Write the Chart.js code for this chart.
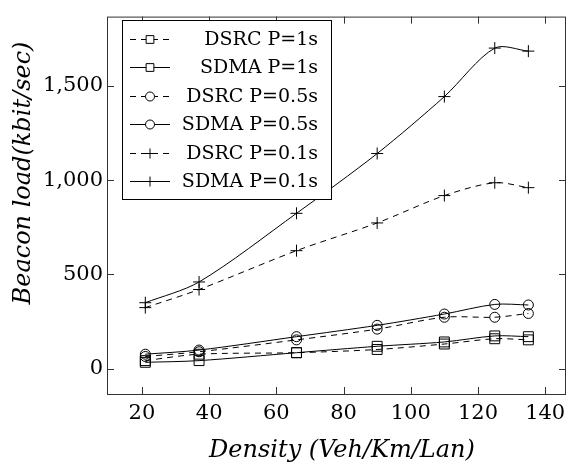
<!DOCTYPE html>
<html>
<head>
<meta charset="utf-8">
<script src="https://cdn.jsdelivr.net/npm/chart.js@4"></script>
<style>
  html, body { margin: 0; padding: 0; background: #fff; }
  #wrap { width: 574px; height: 470px; }
</style>
</head>
<body>
<div id="wrap"><canvas id="myChart" width="574" height="470"></canvas></div>
<script>
const density = [21, 37, 66, 90, 110, 125, 135];

const dsrc1 = [43, 77, 85, 102, 131, 159, 153];
const sdma1 = [34, 43, 85, 119, 142, 174, 170];
const dsrc05 = [65, 90, 153, 210, 273, 273, 293];
const sdma05 = [77, 99, 170, 230, 290, 341, 338];
const dsrc01 = [324, 420, 626, 773, 918, 986, 960];
const sdma01 = [350, 460, 824, 1141, 1443, 1700, 1684];

const seriesNames = ["DSRC P=1s", "SDMA P=1s", "DSRC P=0.5s", "SDMA P=0.5s", "DSRC P=0.1s", "SDMA P=0.1s"];
const xTicks = [20, 40, 60, 80, 100, 120, 140];
const yTicks = [0, 500, 1000, 1500];
const xTitle = "Density (Veh/Km/Lan)";
const yTitle = "Beacon load(kbit/sec)";

const FONT = "'DejaVu Serif', 'Liberation Serif', serif";

function makeSet(label, values, dashed, marker) {
  return {
    label: label,
    data: values.map((v, i) => ({ x: density[i], y: v })),
    borderColor: "#000",
    backgroundColor: "transparent",
    borderWidth: 1,
    borderDash: dashed ? [6, 5] : [],
    pointStyle: marker,
    pointRadius: marker == "rect" ? 7 : marker == "circle" ? 5 : 6,
    pointBorderColor: "#000",
    pointBackgroundColor: "transparent",
    pointBorderWidth: 1,
    tension: 0.3,
  };
}

// frame with inward ticks on all four sides, and the axis titles
const frame = {
  id: "frame",
  afterDraw(chart) {
    const ctx = chart.ctx;
    const a = chart.chartArea;
    const xs = chart.scales.x, ys = chart.scales.y;
    ctx.save();
    ctx.strokeStyle = "#333";
    ctx.lineWidth = 1;
    ctx.setLineDash([]);
    ctx.strokeRect(a.left + 0.5, a.top + 0.5, a.right - a.left - 1, a.bottom - a.top);
    ctx.beginPath();
    xTicks.forEach((t) => {
      const px = Math.round(xs.getPixelForValue(t)) + 0.5;
      ctx.moveTo(px, a.bottom); ctx.lineTo(px, a.bottom - 7);
      ctx.moveTo(px, a.top); ctx.lineTo(px, a.top + 7);
    });
    yTicks.forEach((t) => {
      const py = Math.round(ys.getPixelForValue(t)) + 0.5;
      ctx.moveTo(a.left, py); ctx.lineTo(a.left + 7, py);
      ctx.moveTo(a.right, py); ctx.lineTo(a.right - 7, py);
    });
    ctx.stroke();

    ctx.fillStyle = "#000";
    ctx.font = "italic 24px " + FONT;
    ctx.textAlign = "center";
    ctx.textBaseline = "middle";
    ctx.fillText(xTitle, 342, 451);
    ctx.translate(24, 173);
    ctx.rotate(-Math.PI / 2);
    ctx.fillText(yTitle, 0, 0);
    ctx.restore();
  },
};

// legend box inside the plot, like the pgfplots one
const boxLegend = {
  id: "boxLegend",
  afterDraw(chart) {
    const ctx = chart.ctx;
    const box = { left: 122, top: 20, right: 331, bottom: 199 };
    ctx.save();
    ctx.fillStyle = "#fff";
    ctx.fillRect(box.left, box.top, box.right - box.left, box.bottom - box.top);
    ctx.strokeStyle = "#000";
    ctx.lineWidth = 1;
    ctx.strokeRect(box.left + 0.5, box.top + 0.5, box.right - box.left, box.bottom - box.top);
    ctx.font = "19px " + FONT;
    ctx.textAlign = "right";
    ctx.textBaseline = "middle";
    chart.data.datasets.forEach((ds, i) => {
      const y = Math.round(38.5 + i * 28.5) + 0.5;
      ctx.strokeStyle = "#000";
      ctx.setLineDash(ds.borderDash);
      ctx.beginPath();
      ctx.moveTo(130, y);
      ctx.lineTo(170, y);
      ctx.stroke();
      ctx.setLineDash([]);
      ctx.fillStyle = "#fff";
      Chart.helpers.drawPoint(ctx, {
        pointStyle: ds.pointStyle,
        radius: ds.pointStyle == "rect" ? 5.5 : ds.pointStyle == "circle" ? 4.5 : 5,
        borderWidth: 1,
      }, 150, y);
      ctx.fillStyle = "#000";
      ctx.fillText(ds.label, 318, y + 1);
    });
    ctx.restore();
  },
};

window.onload = function () {
  const ctx = document.getElementById("myChart").getContext("2d");
  new Chart(ctx, {
    type: "line",
    data: {
      datasets: [
        makeSet(seriesNames[0], dsrc1, true, "rect"),
        makeSet(seriesNames[1], sdma1, false, "rect"),
        makeSet(seriesNames[2], dsrc05, true, "circle"),
        makeSet(seriesNames[3], sdma05, false, "circle"),
        makeSet(seriesNames[4], dsrc01, true, "cross"),
        makeSet(seriesNames[5], sdma01, false, "cross"),
      ],
    },
    options: {
      responsive: false,
      animation: false,
      layout: { padding: { top: 7, right: 1, left: 0, bottom: 0 } },
      plugins: { legend: { display: false }, tooltip: { enabled: false } },
      scales: {
        x: {
          type: "linear",
          min: 9.6,
          max: 146.2,
          grid: { display: false, drawTicks: false },
          border: { display: false },
          afterBuildTicks: (s) => { s.ticks = xTicks.map((v) => ({ value: v })); },
          afterFit: (s) => { s.height = 76; },
          ticks: {
            color: "#000",
            font: { family: FONT, size: 21 },
            padding: 7,
            maxRotation: 0,
          },
        },
        y: {
          min: -134,
          max: 1867,
          grid: { display: false, drawTicks: false },
          border: { display: false },
          afterBuildTicks: (s) => { s.ticks = yTicks.map((v) => ({ value: v })); },
          afterFit: (s) => { s.width = 107; },
          ticks: {
            color: "#000",
            font: { family: FONT, size: 21 },
            padding: 4,
            callback: (v) => v.toLocaleString("en-US"),
          },
        },
      },
    },
    plugins: [frame, boxLegend],
  });
};
</script>
</body>
</html>
